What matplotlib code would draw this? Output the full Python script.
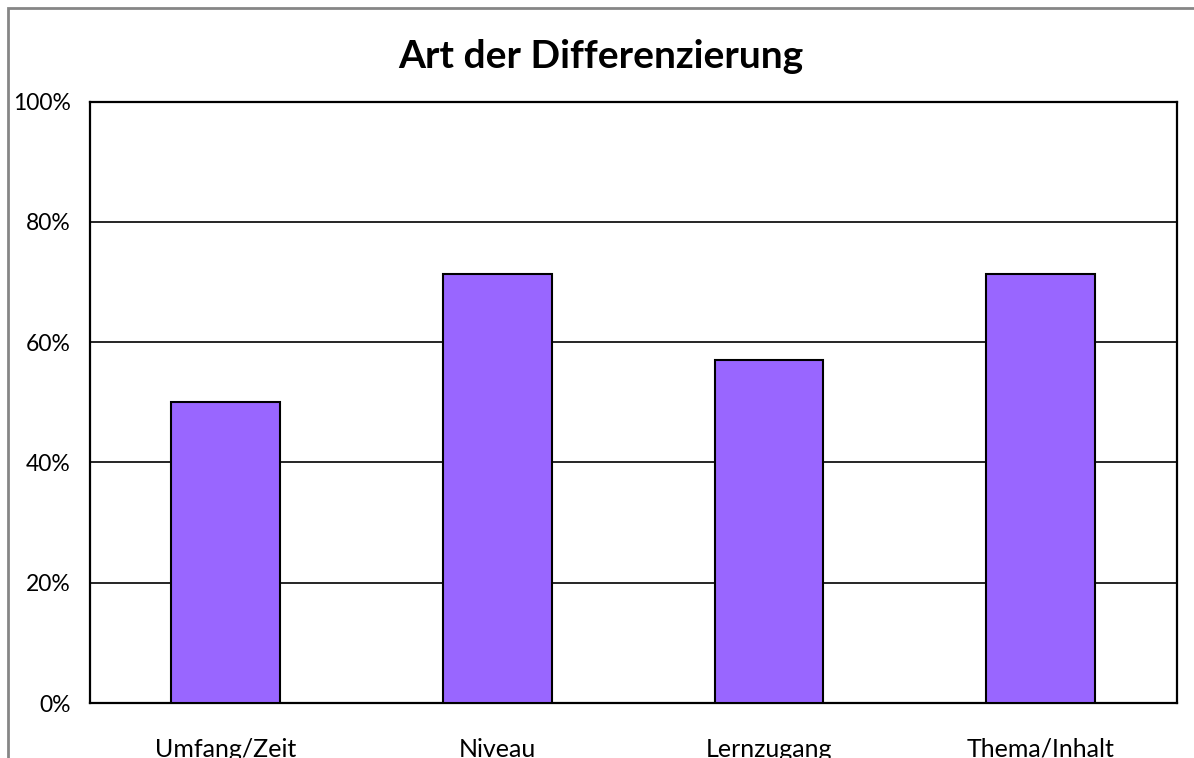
import matplotlib
matplotlib.use('Agg')
import matplotlib.pyplot as plt
from matplotlib.patches import Rectangle
from matplotlib.ticker import FuncFormatter

plt.rcParams['font.family'] = ['Lato', 'DejaVu Sans']

categories = ['Umfang/Zeit', 'Niveau', 'Lernzugang', 'Thema/Inhalt']
values = [50.0, 71.4, 57.1, 71.4]
yticks = [0, 20, 40, 60, 80, 100]

W, H = 1194, 758
fig = plt.figure(figsize=(W / 100, H / 100), dpi=100)

# outer chart frame (cut off on the right and bottom)
fig.patches.append(Rectangle((8 / W, -1), 3, 2 - 8 / H, transform=fig.transFigure,
                             fill=False, edgecolor='#868686', linewidth=2))

left, right, top, bottom = 90, 1176.5, 101.5, 703
ax = fig.add_axes([left / W, 1 - bottom / H, (right - left) / W, (bottom - top) / H])

x = range(len(categories))
ax.bar(x, values, width=0.4, color='#9966FF', edgecolor='black', linewidth=1.5, zorder=3)

ax.set_xlim(-0.5, len(categories) - 0.5)
ax.set_ylim(0, 100)
ax.set_yticks(yticks)
ax.yaxis.set_major_formatter(FuncFormatter(lambda v, p: '%d%%' % v))
ax.set_xticks(list(x))
ax.set_xticklabels(categories)
ax.grid(axis='y', color='black', linewidth=1.2, zorder=1)
ax.tick_params(axis='both', length=0, labelsize=16.5, colors='black')
ax.tick_params(axis='x', pad=25, labelsize=18)
ax.tick_params(axis='y', pad=14)
for s in ax.spines.values():
    s.set_linewidth(1.6)
    s.set_color('black')

fig.text(601 / W, 1 - 57 / H, 'Art der Differenzierung', ha='center', va='center',
         fontsize=28, fontweight='bold')

fig.savefig('out.png', dpi=100)
